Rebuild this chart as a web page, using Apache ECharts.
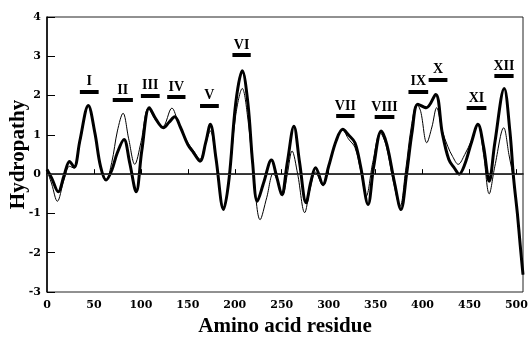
<!DOCTYPE html>
<html>
<head>
<meta charset="utf-8">
<script src="https://cdn.jsdelivr.net/npm/echarts@6/dist/echarts.min.js"></script>
<style>
  html, body { margin: 0; padding: 0; background: #fff; }
  #chart { width: 530px; height: 339px; }
</style>
</head>
<body>
<div id="chart"></div>
<script>
// thick trace (residue, hydropathy)
const thickRes = [0, 5, 12, 18, 24, 29, 35, 44, 51, 57, 63, 69, 75, 82, 88, 95, 101, 109, 116, 124, 130, 136, 142, 150, 156, 163, 169, 174, 180, 188, 194, 201, 208, 214, 219, 224, 231, 239, 245, 250, 256, 263, 269, 276, 281, 286, 294, 300, 308, 315, 321, 328, 334, 342, 348, 356, 362, 370, 377, 383, 389, 395, 404, 414, 421, 428, 434, 439, 445, 452, 459, 465, 471, 477, 487, 493, 497, 501, 504, 507];
const thickVal = [0.12, -0.1, -0.45, -0.05, 0.32, 0.18, 0.85, 1.75, 1.05, 0.2, -0.15, 0.1, 0.55, 0.88, 0.3, -0.45, 0.6, 1.69, 1.4, 1.18, 1.32, 1.46, 1.2, 0.75, 0.55, 0.33, 0.8, 1.27, 0.4, -0.9, -0.1, 1.8, 2.63, 1.8, 0.3, -0.69, -0.2, 0.36, -0.1, -0.52, 0.3, 1.22, 0.3, -0.73, -0.2, 0.16, -0.26, 0.2, 0.85, 1.14, 1.0, 0.8, 0.2, -0.77, 0.2, 1.1, 0.75, -0.2, -0.9, 0.0, 1.1, 1.78, 1.69, 2.03, 1.05, 0.37, 0.15, 0.0, 0.25, 0.8, 1.27, 0.7, -0.18, 0.8, 2.18, 1.1, -0.1, -1.0, -1.8, -2.56];

// thin trace
const thinRes = [0, 5, 11, 18, 24, 29, 35, 44, 51, 57, 63, 69, 75, 81, 87, 93.5, 100, 108, 115, 123, 133, 140, 150, 156, 163, 168, 174, 180, 188, 194, 201, 208, 214, 220, 227, 234, 241, 246, 251, 256, 261, 267, 274.5, 280, 286, 294, 300, 308, 315, 321, 328, 334, 340, 347, 355, 361, 369, 376, 382, 388, 394, 398, 404.5, 410, 415, 421, 427, 432, 438, 445, 452, 459, 465, 471, 477, 486.5, 492, 497, 501, 504, 507];
const thinVal = [0.1, -0.25, -0.69, -0.15, 0.2, 0.15, 0.8, 1.72, 1.05, 0.2, -0.15, 0.3, 1.1, 1.55, 0.9, 0.25, 0.8, 1.68, 1.4, 1.2, 1.68, 1.3, 0.8, 0.6, 0.38, 0.7, 1.1, 0.35, -0.85, -0.1, 1.5, 2.18, 1.4, 0.0, -1.16, -0.6, 0.02, -0.2, -0.55, 0.0, 0.59, 0.0, -0.98, -0.4, 0.05, -0.3, 0.2, 0.85, 1.12, 0.9, 0.68, 0.1, -0.56, 0.3, 1.05, 0.75, -0.2, -0.82, 0.1, 1.2, 1.78, 1.6, 0.8, 1.2, 1.69, 1.1, 0.7, 0.45, 0.25, 0.5, 0.85, 1.25, 0.5, -0.5, 0.2, 1.18, 0.5, -0.15, -1.0, -1.8, -2.56];

// transmembrane segment markers
const segNames = ['I', 'II', 'III', 'IV', 'V', 'VI', 'VII', 'VIII', 'IX', 'X', 'XI', 'XII'];
const segStart = [35, 70, 100, 128, 163, 197.5, 308, 349, 385, 406.5, 447, 476.5];
const segEnd = [55, 91.5, 120, 147.5, 183, 217, 327.5, 370, 406, 426.5, 468, 497];
const segLevel = [2.11, 1.89, 2.0, 1.96, 1.75, 3.03, 1.48, 1.45, 2.11, 2.41, 1.68, 2.5];

const serif = '"Liberation Serif", "Times New Roman", serif';
const wideSerif = '"DejaVu Serif", serif';

const pairs = (xs, ys) => xs.map((x, i) => [x, ys[i]]);

const segLines = segNames.map((n, i) => [
  { name: n, coord: [segStart[i], segLevel[i]] },
  { coord: [segEnd[i], segLevel[i]] }
]);

const chart = echarts.init(document.getElementById('chart'), null, { renderer: 'canvas' });
chart.setOption({
  animation: false,
  backgroundColor: '#fff',
  grid: {
    left: 47, right: 7, top: 17, bottom: 47,
    outerBoundsMode: 'none',
    containLabel: false,
    show: true,
    borderColor: '#222',
    borderWidth: 1
  },
  xAxis: {
    type: 'value',
    min: 0, max: 507, interval: 50,
    name: 'Amino acid residue',
    nameLocation: 'middle',
    nameGap: 24,
    nameMoveOverlap: false,
    nameTextStyle: { fontFamily: serif, fontWeight: 'bold', fontSize: 21, color: '#000' },
    axisLine: { lineStyle: { color: '#000', width: 1.5 } },
    axisTick: { inside: true, length: 5, lineStyle: { color: '#000' } },
    axisLabel: { fontFamily: wideSerif, fontWeight: 'bold', fontSize: 11, color: '#000', margin: 8 },
    splitLine: { show: false }
  },
  yAxis: {
    type: 'value',
    min: -3, max: 4, interval: 1,
    name: 'Hydropathy',
    nameLocation: 'middle',
    nameGap: 18,
    nameMoveOverlap: false,
    nameTextStyle: { fontFamily: serif, fontWeight: 'bold', fontSize: 21, color: '#000' },
    axisLine: { show: true, lineStyle: { color: '#000', width: 1.5 } },
    axisTick: { show: true, inside: true, length: 8, lineStyle: { color: '#000' } },
    axisLabel: { fontFamily: wideSerif, fontWeight: 'bold', fontSize: 11, color: '#000', margin: 6 },
    splitLine: { show: false }
  },
  series: [
    {
      type: 'line',
      data: pairs(thinRes, thinVal),
      smooth: 0.35,
      symbol: 'none',
      lineStyle: { color: '#000', width: 1 },
      markLine: {
        silent: true,
        symbol: 'none',
        label: { show: false },
        lineStyle: { color: '#333', width: 1, type: 'solid' },
        data: [{ yAxis: 0 }]
      },
      z: 2
    },
    {
      type: 'line',
      data: pairs(thickRes, thickVal),
      smooth: 0.35,
      symbol: 'none',
      lineStyle: { color: '#000', width: 3 },
      markLine: {
        silent: true,
        symbol: 'none',
        lineStyle: { color: '#000', width: 4, type: 'solid' },
        label: {
          show: true,
          position: 'insideMiddleTop',
          formatter: '{b}',
          distance: 3,
          fontFamily: serif,
          fontWeight: 'bold',
          fontSize: 14,
          color: '#000'
        },
        data: segLines
      },
      z: 3
    }
  ]
});
</script>
</body>
</html>
